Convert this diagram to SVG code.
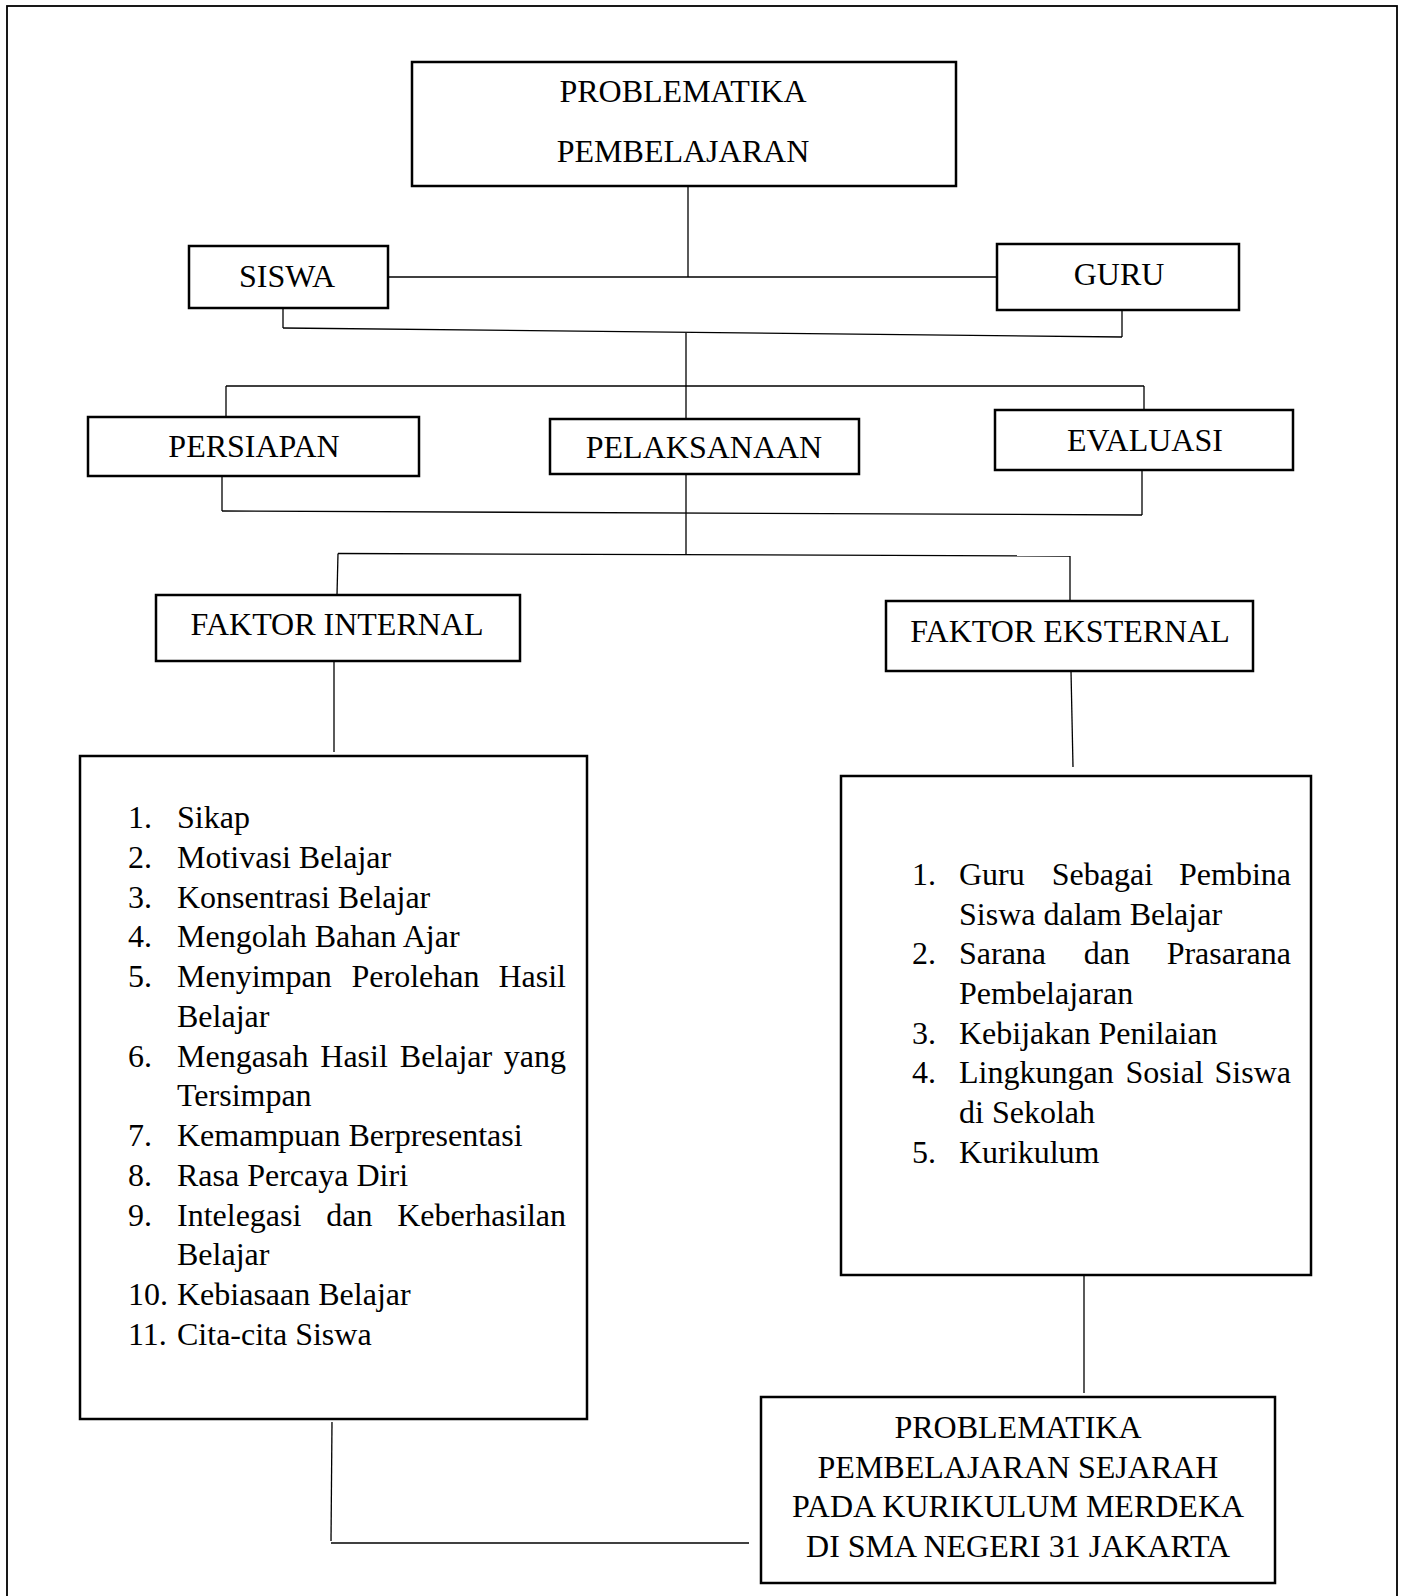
<svg xmlns="http://www.w3.org/2000/svg" width="1402" height="1596" viewBox="0 0 1402 1596">
<style>
.box{fill:#fff;stroke:#000;stroke-width:2.5}
.ln{fill:none;stroke:#000;stroke-width:1.3}
text{font-family:"Liberation Serif","Times New Roman",serif;font-size:32px;fill:#000}
.c{text-anchor:middle}
.e{text-anchor:end}
</style>
<rect x="0" y="0" width="1402" height="1596" fill="#fff"/>
<rect x="7" y="6" width="1390" height="1620" fill="none" stroke="#000" stroke-width="1.8"/>
<g id="connectors">
<line class="ln" x1="688" y1="186" x2="688" y2="277"/>
<line class="ln" x1="388" y1="277" x2="997" y2="277"/>
<line class="ln" x1="283" y1="308" x2="283" y2="328"/>
<line class="ln" x1="283" y1="328" x2="1122" y2="337"/>
<line class="ln" x1="1122" y1="310" x2="1122" y2="337"/>
<line class="ln" x1="686" y1="333" x2="686" y2="419"/>
<line class="ln" x1="226" y1="386" x2="1144" y2="386"/>
<line class="ln" x1="226" y1="386" x2="226" y2="417"/>
<line class="ln" x1="1144" y1="386" x2="1144" y2="410"/>
<line class="ln" x1="222" y1="476" x2="222" y2="511"/>
<line class="ln" x1="222" y1="511" x2="1142" y2="515"/>
<line class="ln" x1="1142" y1="470" x2="1142" y2="515"/>
<line class="ln" x1="686" y1="474" x2="686" y2="554"/>
<line class="ln" x1="338" y1="553.5" x2="1070" y2="556"/>
<line class="ln" x1="338" y1="553.5" x2="337" y2="595"/>
<line class="ln" x1="1070" y1="556" x2="1070" y2="601"/>
<line class="ln" x1="334" y1="661" x2="334" y2="752"/>
<line class="ln" x1="1071" y1="671" x2="1073" y2="767"/>
<line class="ln" x1="1084" y1="1275" x2="1084" y2="1393"/>
<line class="ln" x1="332" y1="1422" x2="331" y2="1541"/>
<line class="ln" x1="331" y1="1543" x2="749" y2="1543"/>
</g>
<g id="node-problematika">
<rect class="box" x="412" y="62" width="544" height="124"/>
<text class="c" x="683" y="102">PROBLEMATIKA</text>
<text class="c" x="683" y="162">PEMBELAJARAN</text>
</g>
<g id="node-siswa">
<rect class="box" x="189" y="246" width="199" height="62"/>
<text class="c" x="287" y="287">SISWA</text>
</g>
<g id="node-guru">
<rect class="box" x="997" y="244" width="242" height="66"/>
<text class="c" x="1119" y="285">GURU</text>
</g>
<g id="node-persiapan">
<rect class="box" x="88" y="417" width="331" height="59"/>
<text class="c" x="254" y="457">PERSIAPAN</text>
</g>
<g id="node-pelaksanaan">
<rect class="box" x="550" y="419" width="309" height="55"/>
<text class="c" x="704" y="458">PELAKSANAAN</text>
</g>
<g id="node-evaluasi">
<rect class="box" x="995" y="410" width="298" height="60"/>
<text class="c" x="1145" y="451">EVALUASI</text>
</g>
<g id="node-faktor-internal">
<rect class="box" x="156" y="595" width="364" height="66"/>
<text class="c" x="337" y="635">FAKTOR INTERNAL</text>
</g>
<g id="node-faktor-eksternal">
<rect class="box" x="886" y="601" width="367" height="70"/>
<text class="c" x="1070" y="642">FAKTOR EKSTERNAL</text>
</g>
<g id="node-list-internal">
<rect class="box" x="80" y="756" width="507" height="663"/>
<text x="128" y="828">1.</text><text x="177" y="828">Sikap</text>
<text x="128" y="868">2.</text><text x="177" y="868">Motivasi Belajar</text>
<text x="128" y="908">3.</text><text x="177" y="908">Konsentrasi Belajar</text>
<text x="128" y="947">4.</text><text x="177" y="947">Mengolah Bahan Ajar</text>
<text x="128" y="987">5.</text><text x="177" y="987">Menyimpan</text><text x="351.5" y="987">Perolehan</text><text class="e" x="566" y="987">Hasil</text>
<text x="177" y="1027">Belajar</text>
<text x="128" y="1067">6.</text><text x="177" y="1067">Mengasah</text><text x="320.3" y="1067">Hasil</text><text x="399.8" y="1067">Belajar</text><text class="e" x="566" y="1067">yang</text>
<text x="177" y="1106">Tersimpan</text>
<text x="128" y="1146">7.</text><text x="177" y="1146">Kemampuan Berpresentasi</text>
<text x="128" y="1186">8.</text><text x="177" y="1186">Rasa Percaya Diri</text>
<text x="128" y="1226">9.</text><text x="177" y="1226">Intelegasi</text><text x="326.3" y="1226">dan</text><text class="e" x="566" y="1226">Keberhasilan</text>
<text x="177" y="1265">Belajar</text>
<text x="128" y="1305">10.</text><text x="177" y="1305">Kebiasaan Belajar</text>
<text x="128" y="1345">11.</text><text x="177" y="1345">Cita-cita Siswa</text>
</g>
<g id="node-list-eksternal">
<rect class="box" x="841" y="776" width="470" height="499"/>
<text x="912" y="885">1.</text><text x="959" y="885">Guru</text><text x="1051.8" y="885">Sebagai</text><text class="e" x="1291" y="885">Pembina</text>
<text x="959" y="925">Siswa dalam Belajar</text>
<text x="912" y="964">2.</text><text x="959" y="964">Sarana</text><text x="1083.7" y="964">dan</text><text class="e" x="1291" y="964">Prasarana</text>
<text x="959" y="1004">Pembelajaran</text>
<text x="912" y="1044">3.</text><text x="959" y="1044">Kebijakan Penilaian</text>
<text x="912" y="1083">4.</text><text x="959" y="1083">Lingkungan</text><text x="1125.5" y="1083">Sosial</text><text class="e" x="1291" y="1083">Siswa</text>
<text x="959" y="1123">di Sekolah</text>
<text x="912" y="1163">5.</text><text x="959" y="1163">Kurikulum</text>
</g>
<g id="node-problematika-sejarah">
<rect class="box" x="761" y="1397" width="514" height="186"/>
<text class="c" x="1018" y="1438">PROBLEMATIKA</text>
<text class="c" x="1018" y="1478">PEMBELAJARAN SEJARAH</text>
<text class="c" x="1018" y="1517">PADA KURIKULUM MERDEKA</text>
<text class="c" x="1018" y="1557">DI SMA NEGERI 31 JAKARTA</text>
</g>
</svg>
